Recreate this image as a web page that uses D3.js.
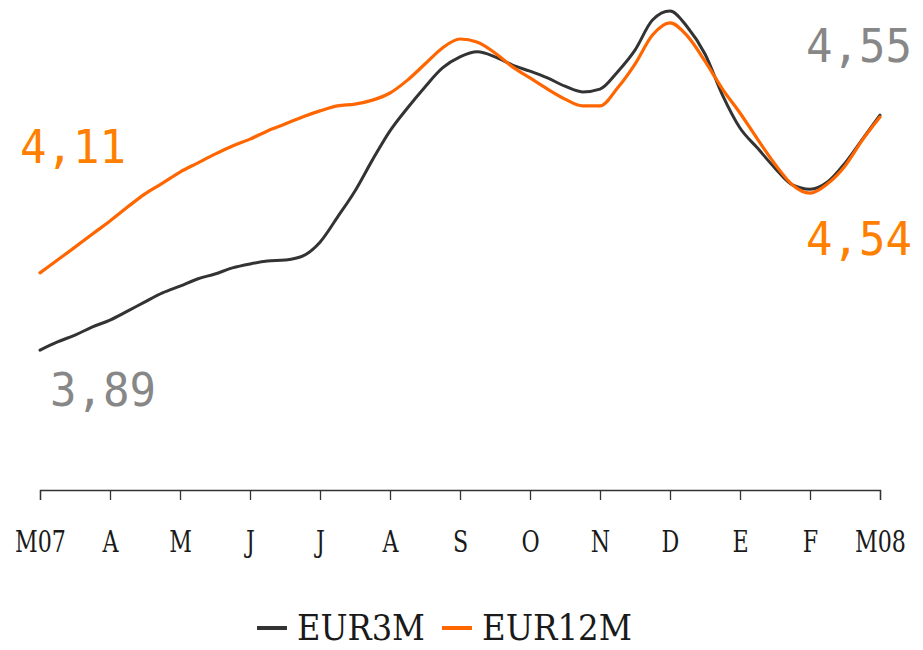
<!DOCTYPE html>
<html>
<head>
<meta charset="utf-8">
<script src="https://cdn.jsdelivr.net/npm/d3@7"></script>
<style>
  html, body { margin: 0; padding: 0; background: #fff; }
  svg { display: block; }
</style>
</head>
<body>
<div id="chart"></div>
<script>
// Month tick labels, M07 .. M08
const monthLabels = ["M07", "A", "M", "J", "J", "A", "S", "O", "N", "D", "E", "F", "M08"];

// Weekly readings (4 per month)
const eur3m = [
    3.891, 3.914, 3.933, 3.956, 3.975, 4.000, 4.026, 4.051, 4.070, 4.090,
    4.104, 4.121, 4.132, 4.140, 4.143, 4.154, 4.193, 4.263, 4.336, 4.423,
    4.504, 4.568, 4.627, 4.680, 4.711, 4.725, 4.711, 4.688, 4.671, 4.652,
    4.629, 4.613, 4.621, 4.669, 4.730, 4.814, 4.839, 4.794, 4.719, 4.604,
    4.512, 4.456, 4.400, 4.353, 4.341, 4.361, 4.414, 4.481, 4.548
];
const eur12m = [
    4.107, 4.143, 4.179, 4.216, 4.252, 4.291, 4.328, 4.358, 4.389, 4.414,
    4.439, 4.462, 4.481, 4.504, 4.523, 4.543, 4.560, 4.574, 4.579, 4.590,
    4.610, 4.646, 4.691, 4.736, 4.761, 4.752, 4.722, 4.683, 4.652, 4.621,
    4.593, 4.574, 4.574, 4.624, 4.691, 4.772, 4.806, 4.769, 4.699, 4.621,
    4.554, 4.481, 4.411, 4.353, 4.330, 4.356, 4.406, 4.479, 4.543
];

const seriesNames = ["EUR3M", "EUR12M"];
const lineColors = ["#333333", "#ff6600"];
const labelColors = ["#878787", "#ff7f00"];

const width = 923, height = 650;
const axisY = 490;

const svg = d3.select("#chart").append("svg")
    .attr("width", width)
    .attr("height", height);

const x = d3.scaleLinear().domain([0, 12]).range([40, 880]);
const y = d3.scaleLinear().domain([3.5, 4.87]).range([axisY, 0]);

const fmt = v => d3.format(".2f")(v).replace(".", ",");

// axis
const axis = svg.append("g")
    .attr("transform", `translate(0,${axisY})`)
    .call(d3.axisBottom(x)
        .tickValues(d3.range(monthLabels.length))
        .tickFormat(i => monthLabels[i])
        .tickSize(10)
        .tickSizeOuter(10));
axis.selectAll("path, line").attr("stroke", "#333").attr("stroke-width", 1.3);
axis.selectAll("text")
    .attr("y", 62)
    .attr("dy", 0)
    .attr("fill", "#1a1a1a")
    .attr("font-family", "'DejaVu Serif', serif")
    .attr("font-size", 30)
    .attr("transform", "scale(0.74,1)");

// lines
const line = d3.line()
    .x((d, i) => x(i / 4))
    .y(d => y(d))
    .curve(d3.curveMonotoneX);

[eur3m, eur12m].forEach((data, k) => {
    svg.append("path")
        .datum(data)
        .attr("d", line)
        .attr("fill", "none")
        .attr("stroke", lineColors[k])
        .attr("stroke-width", k === 0 ? 3 : 3.2)
        .attr("stroke-linejoin", "round")
        .attr("stroke-linecap", "round");
});

// end value labels
const labelFont = "'DejaVu Sans Mono', monospace";
function valueLabel(v, px, py, anchor, color) {
    svg.append("text")
        .attr("x", px)
        .attr("y", py)
        .attr("text-anchor", anchor)
        .attr("fill", color)
        .attr("font-family", labelFont)
        .attr("font-size", 47)
        .attr("textLength", 106)
        .attr("lengthAdjust", "spacingAndGlyphs")
        .text(fmt(v));
}
const last = eur3m.length - 1;
valueLabel(eur12m[0], x(0) - 20, y(eur12m[0]) - 110, "start", labelColors[1]);
valueLabel(eur3m[0], x(0) + 10, y(eur3m[0]) + 56, "start", labelColors[0]);
valueLabel(eur3m[last], x(12) + 32, y(eur3m[last]) - 53, "end", labelColors[0]);
valueLabel(eur12m[last], x(12) + 32, y(eur12m[last]) + 138, "end", labelColors[1]);

// legend
const legend = svg.append("g");
const legendItems = [
    { x0: 257, tx: 297, w: 128 },
    { x0: 442, tx: 482, w: 150 }
];
legendItems.forEach((it, k) => {
    legend.append("line")
        .attr("x1", it.x0).attr("x2", it.x0 + 30)
        .attr("y1", 628).attr("y2", 628)
        .attr("stroke", lineColors[k])
        .attr("stroke-width", 4);
    legend.append("text")
        .attr("x", it.tx)
        .attr("y", 640)
        .attr("fill", "#1a1a1a")
        .attr("font-family", "'DejaVu Serif', serif")
        .attr("font-size", 36)
        .attr("textLength", it.w)
        .attr("lengthAdjust", "spacingAndGlyphs")
        .text(seriesNames[k]);
});
</script>
</body>
</html>
